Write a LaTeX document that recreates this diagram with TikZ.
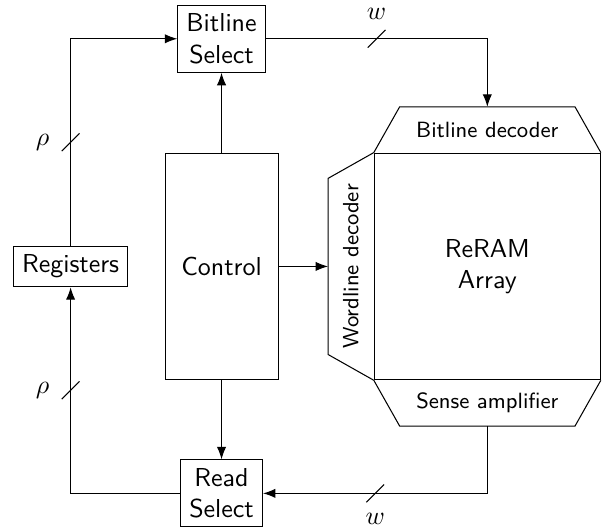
\documentclass[tikz,border=0pt]{standalone}
\usetikzlibrary{positioning, arrows.meta}

\begin{document}
\begin{tikzpicture}[
  font=\sffamily,
  blk/.style={draw, align=center},
  dec/.style={minimum height=6.2mm, inner sep=0pt, outer sep=0pt,
              font=\sffamily\fontsize{8.5}{10}\selectfont},
  arr/.style={-{Latex}},
  tick/.style={line width=0.4pt}
]
\useasboundingbox (-3.0,-3.527) rectangle (5.233,3.608);

\node[blk, minimum width=15.3mm, minimum height=30.7mm] (ctrl) {Control};
\node[blk, above=10.8mm of ctrl] (bsel) {Bitline\\Select};
\node[blk, below=10.7mm of ctrl] (rsel) {Read\\Select};
\node[blk, left=4.9mm of ctrl] (reg) {Registers};

% memory macro: array with its decoders and sense amps
\node[blk, minimum width=30.6mm, minimum height=30.7mm, right=12.9mm of ctrl] (array) {ReRAM\\Array};
\draw (array.north west) -- ++(3.5mm,6.2mm) -- ([shift={(-3.5mm,6.2mm)}]array.north east) -- (array.north east);
\draw (array.north west) -- ++(-6.2mm,-3.5mm) -- ([shift={(-6.2mm,3.5mm)}]array.south west) -- (array.south west);
\draw (array.south west) -- ++(3.5mm,-6.2mm) -- ([shift={(-3.5mm,-6.2mm)}]array.south east) -- (array.south east);
\node[dec] (bldec) at ([yshift=3.1mm]array.north) {Bitline decoder};
\node[dec, rotate=90] (wldec) at ([xshift=-3.1mm]array.west) {Wordline decoder};
\node[dec] (samp) at ([yshift=-3.1mm]array.south) {Sense amplifier};

\draw[arr] (ctrl) -- (bsel);
\draw[arr] (ctrl) -- (rsel);
\draw[arr] (ctrl.east) -- (wldec.north);
\draw[arr] (bsel.east) -| coordinate[pos=0.25] (wtop) (bldec.north);
\draw[arr] (samp.south) |- coordinate[pos=0.75] (wbot) (rsel.east);
\draw[arr] (rsel.west) -| coordinate[pos=0.75] (rlow) (reg.south);
\draw[arr] (reg.north) |- coordinate[pos=0.25] (rup) (bsel.west);

% bus width ticks
\foreach \c in {wtop, wbot, rup, rlow}
  \draw[tick] ([shift={(-1.2mm,-1.2mm)}]\c) -- ([shift={(1.2mm,1.2mm)}]\c);
\node (wtopl) at ([yshift=3.4mm]wtop) {$w$};
\node (wbotl) at ([yshift=-3.4mm]wbot) {$w$};
\node (rupl) at ([xshift=-3.8mm]rup) {$\rho$};
\node (rlowl) at ([xshift=-3.8mm]rlow) {$\rho$};

\end{tikzpicture}
\end{document}
